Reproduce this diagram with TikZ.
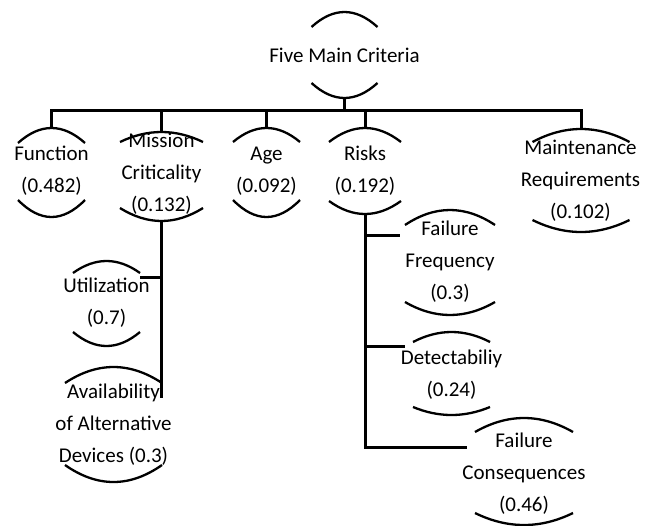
\documentclass[tikz,border=0pt]{standalone}
\usepackage{fontspec}
\setmainfont{Carlito}

\tikzset{lid/.style={line width=2.3pt},
         conn/.style={line width=3pt},
         crit/.style={align=center,inner sep=0pt,font=\fontsize{21}{32}\selectfont}}

% arcs above and below a criterion: name, x, half width, top y, rise, bottom y, sag
\newcommand\lids[7]{%
  \draw[lid] (#2-#3,#4) .. controls (#2-#3/3,#4-4*#5/3) and (#2+#3/3,#4-4*#5/3) .. (#2+#3,#4);
  \draw[lid] (#2-#3,#6) .. controls (#2-#3/3,#6+4*#7/3) and (#2+#3/3,#6+4*#7/3) .. (#2+#3,#6);
  \coordinate (#1-t) at (#2,#4-#5);
  \coordinate (#1-b) at (#2,#6+#7);}

\begin{document}
\begin{tikzpicture}[x=1pt,y=-1pt]
\useasboundingbox (0,0) rectangle (652,525);
% root
\node[crit] (top) at (344.5,55) {Five Main Criteria};
\lids{top}{344.5}{33}{27}{15}{83}{15}
% main criteria
\node[crit] (func) at (51.5,171) {Function\\(0.482)};
\lids{func}{51.5}{33.5}{143}{15}{200}{17}
\node[crit] (miss) at (161.5,174) {Mission\\Criticality\\(0.132)};
\lids{miss}{161.5}{41.5}{142}{10}{208}{13}
\node[crit] (age) at (266.5,171) {Age\\(0.092)};
\lids{age}{266.5}{33.5}{142}{14}{200}{17}
\node[crit] (risks) at (365,171) {Risks\\(0.192)};
\lids{risks}{365}{36}{142}{14}{201}{13}
\node[crit] (maint) at (580.5,181) {Maintenance\\Requirements\\(0.102)};
\lids{maint}{581}{48.5}{142}{13}{220}{12}
% sub criteria
\node[crit] (util) at (106.5,303) {Utilization\\(0.7)};
\lids{util}{106.5}{33.5}{273}{12}{332}{14}
\node[crit] (avail) at (113.5,425) {Availability\\of Alternative\\Devices (0.3)};
\lids{avail}{113.5}{48.5}{383}{16}{465}{17}
\node[crit] (freq) at (450,262) {Failure\\Frequency\\(0.3)};
\lids{freq}{450}{45}{225}{15}{302}{13}
\node[crit] (det) at (451.5,374.5) {Detectabiliy\\(0.24)};
\lids{det}{451.5}{38.5}{342}{10}{407}{8}
\node[crit] (cons) at (524,473.5) {Failure\\Consequences\\(0.46)};
\lids{cons}{524}{49}{432}{14}{513}{12}
% connectors
\coordinate (bar) at (0,110);
\coordinate (miss-end) at (161.5,398);
\coordinate (util-in) at (140,277);
\coordinate (freq-in) at (400,235);
\coordinate (det-in) at (405,346);
\coordinate (cons-in) at (467,447);
\draw[conn] (top-b) -- (top-b |- bar);
\draw[conn] (func-t) -- (func-t |- bar) -- (maint-t |- bar) -- (maint-t);
\foreach \n in {miss,age,risks}
  \draw[conn] (\n-t) -- (\n-t |- bar);
\draw[conn] (miss-b) -- (miss-end);
\draw[conn] (miss-b |- util-in) -- (util-in);
\draw[conn] (risks-b) |- (cons-in);
\draw[conn] (risks-b |- freq-in) -- (freq-in);
\draw[conn] (risks-b |- det-in) -- (det-in);
\end{tikzpicture}
\end{document}
